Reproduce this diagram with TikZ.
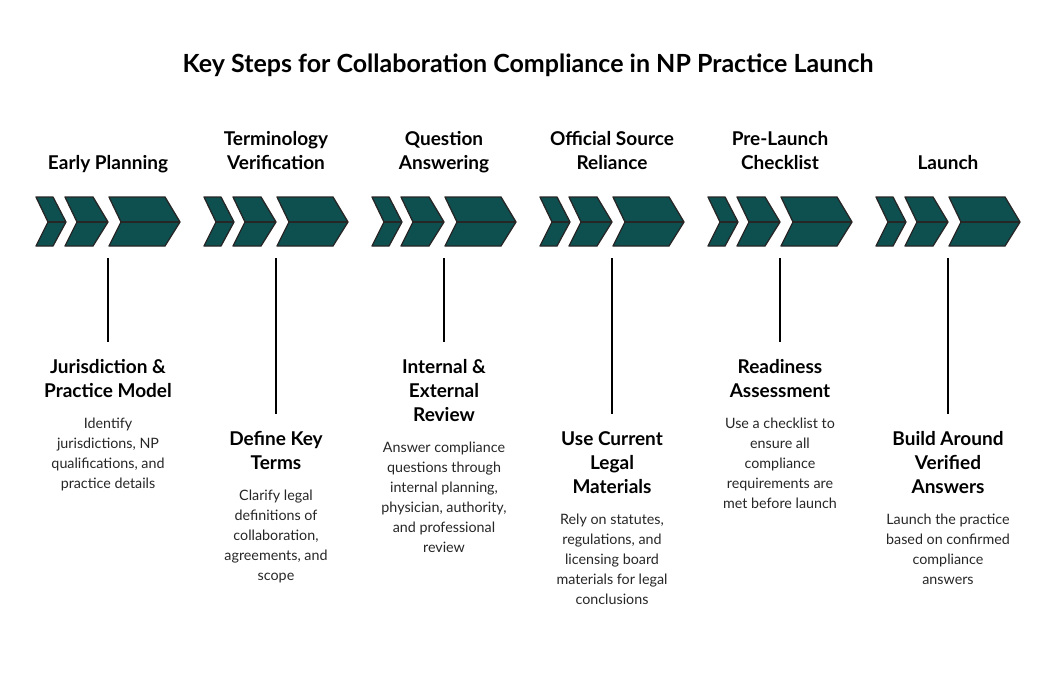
\documentclass[tikz,border=0pt]{standalone}
\usepackage{fontspec}
\setmainfont{Lato}
\definecolor{teal1}{HTML}{0E5050}
\begin{document}
\begin{tikzpicture}[x=1pt,y=-1pt,
  chev/.style={fill=teal1,draw=black!85,line width=1.3pt,line join=round},
  conn/.style={draw=black,line width=1.5pt},
  head/.style={font=\bfseries\fontsize{19}{24}\selectfont,align=center,inner sep=0pt,anchor=base},
  sub/.style={font=\bfseries\fontsize{19}{24}\selectfont,align=center,inner sep=0pt,anchor=north},
  desc/.style={font=\fontsize{14.3}{20}\selectfont,align=center,inner sep=0pt,anchor=north,text=black!85}]
\useasboundingbox (0,0) rectangle (1056,682);
\node[font=\bfseries\fontsize{25}{28}\selectfont,inner sep=0pt] (title) at (528,65) {Key Steps for Collaboration Compliance in NP Practice Launch};
\newcommand{\mychev}[5]{%
  \draw[chev] (#1,197) -- (#1+#2,197) -- (#1+#3,222) -- (#1+#2,246) -- (#1,246) -- (#1+#4,222) -- cycle;
  \draw[black!85,line width=1.3pt] (#1+#4,222) -- (#1+#3,222);}
\foreach \c [count=\i] in {108,276,444,612,780,948}{
  \begin{scope}[xshift=\c pt-108pt]
  \mychev{36}{17}{30}{12}{}
  \mychev{65}{28}{43}{12}{}
  \mychev{109}{56}{71}{12}{}
  \end{scope}
}
\foreach \i/\c/\e in {1/108/342,2/276/414,3/444/342,4/612/414,5/780/342,6/948/414}{
  \coordinate (a\i) at (\c,258);
  \coordinate (b\i) at (\c,\e);
  \draw[conn] (a\i) -- (b\i);
}
\node[head] (h1) at (108,169) {Early Planning};
\node[head] (h2) at (276,169) {Terminology\\Verification};
\node[head] (h3) at (444,169) {Question\\Answering};
\node[head] (h4) at (612,169) {Official Source\\Reliance};
\node[head] (h5) at (780,169) {Pre-Launch\\Checklist};
\node[head] (h6) at (948,169) {Launch};
\node[sub] (s1) at (108,359) {Jurisdiction \&\\Practice Model};
\node[desc] (d1) at (108,418) {Identify\\jurisdictions, NP\\qualifications, and\\practice details};
\node[sub] (s2) at (276,431) {Define Key\\Terms};
\node[desc] (d2) at (276,490) {Clarify legal\\definitions of\\collaboration,\\agreements, and\\scope};
\node[sub] (s3) at (444,359) {Internal \&\\External\\Review};
\node[desc] (d3) at (444,442) {Answer compliance\\questions through\\internal planning,\\physician, authority,\\and professional\\review};
\node[sub] (s4) at (612,431) {Use Current\\Legal\\Materials};
\node[desc] (d4) at (612,514) {Rely on statutes,\\regulations, and\\licensing board\\materials for legal\\conclusions};
\node[sub] (s5) at (780,359) {Readiness\\Assessment};
\node[desc] (d5) at (780,418) {Use a checklist to\\ensure all\\compliance\\requirements are\\met before launch};
\node[sub] (s6) at (948,431) {Build Around\\Verified\\Answers};
\node[desc] (d6) at (948,514) {Launch the practice\\based on confirmed\\compliance\\answers};
\end{tikzpicture}
\end{document}
